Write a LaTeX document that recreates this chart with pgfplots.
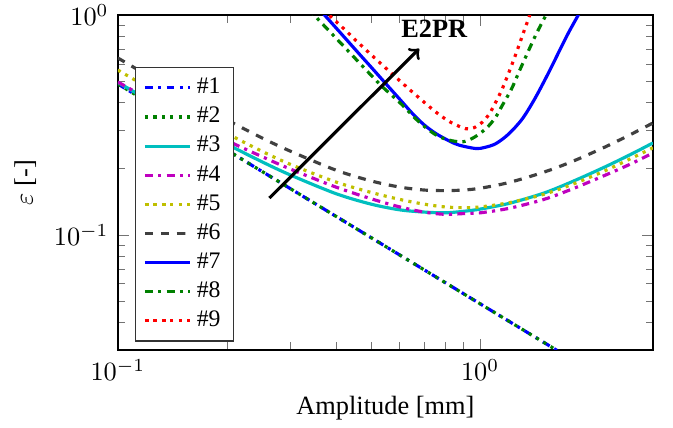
\documentclass[border=0pt]{standalone}
\usepackage{fontspec}
\setmainfont{Liberation Serif}
\usepackage{pgfplots}
\pgfplotsset{compat=1.18}

\definecolor{c3}{rgb}{0,0.75,0.75}
\definecolor{c4}{rgb}{0.75,0,0.75}
\definecolor{c5}{rgb}{0.75,0.75,0}
\definecolor{c6}{rgb}{0.25,0.25,0.25}
\definecolor{cg}{rgb}{0,0.5,0}

\begin{document}
\begin{tikzpicture}
\begin{axis}[
    name=ax,
    width=203pt, height=127pt, scale only axis,
    xmode=log, ymode=log,
    xmin=0.1, xmax=3, ymin=0.03, ymax=1,
    xlabel={Amplitude [mm]},
    ylabel={$\varepsilon$ [-]},
    xlabel style={at={(axis description cs:0.5,-0.173)}, anchor=center},
    ylabel style={at={(axis description cs:-0.173,0.5)}, anchor=center},
    axis line style={thick},
    tick style={black!55},
    legend cell align=left,
    legend style={at={(0.032,0.845)}, anchor=north west, draw=black!80, fill=white,
                  font=\small, row sep=-0.4pt},
    every axis plot/.append style={very thick},
]
% #1
\addplot[blue, dash dot] coordinates {(0.1,0.486) (0.2,0.243) (0.5,0.0972) (1.0,0.0486) (1.7,0.0286)};
% #2
\addplot[cg, dotted] coordinates {(0.1,0.486) (0.2,0.243) (0.5,0.0972) (1.0,0.0486) (1.7,0.0286)};
% #3
\addplot[c3, solid, smooth] coordinates {
(0.1,0.494) (0.12,0.415) (0.15,0.336) (0.2,0.259) (0.25,0.215) (0.3,0.187)
(0.4,0.154) (0.5,0.138) (0.6,0.130) (0.7,0.127) (0.8,0.126) (0.9,0.128)
(1.0,0.131) (1.2,0.139) (1.5,0.155) (1.8,0.175) (2.2,0.203) (2.6,0.232) (3.0,0.262)};
% #4
\addplot[c4, dash dot, smooth] coordinates {
(0.1,0.496) (0.12,0.419) (0.15,0.344) (0.2,0.269) (0.25,0.227) (0.3,0.199)
(0.4,0.165) (0.5,0.146) (0.6,0.134) (0.7,0.127) (0.8,0.124) (0.9,0.125)
(1.0,0.126) (1.2,0.132) (1.5,0.145) (1.8,0.162) (2.2,0.186) (2.6,0.210) (3.0,0.236)};
% #5
\addplot[c5, dotted, smooth] coordinates {
(0.1,0.562) (0.12,0.472) (0.15,0.382) (0.2,0.290) (0.25,0.240) (0.3,0.209)
(0.4,0.174) (0.5,0.156) (0.6,0.145) (0.7,0.138) (0.8,0.134) (0.9,0.133)
(1.0,0.134) (1.2,0.140) (1.5,0.153) (1.8,0.170) (2.2,0.195) (2.6,0.222) (3.0,0.249)};
% #6
\addplot[c6, dashed, smooth] coordinates {
(0.1,0.638) (0.12,0.535) (0.15,0.434) (0.2,0.334) (0.25,0.276) (0.3,0.240)
(0.4,0.197) (0.5,0.176) (0.6,0.165) (0.7,0.160) (0.8,0.159) (0.9,0.160)
(1.0,0.163) (1.2,0.173) (1.5,0.193) (1.8,0.216) (2.2,0.250) (2.6,0.286) (3.0,0.323)};
% #7
\addplot[blue, solid, smooth] coordinates {
(0.35,1.12) (0.372,1.0) (0.41,0.836) (0.464,0.665) (0.5,0.58) (0.55,0.486)
(0.6,0.414) (0.651,0.356) (0.70,0.317) (0.755,0.289) (0.82,0.268) (0.875,0.256)
(0.973,0.247) (1.03,0.250) (1.105,0.260) (1.2,0.288) (1.309,0.338) (1.42,0.42)
(1.549,0.551) (1.65,0.68) (1.758,0.837) (1.866,1.0) (1.95,1.15)};
% #8
\addplot[cg, dash dot, smooth] coordinates {
(0.335,1.07) (0.348,1.0) (0.418,0.728) (0.527,0.487) (0.6,0.40) (0.679,0.326)
(0.755,0.285) (0.82,0.270) (0.894,0.265) (0.96,0.277) (1.037,0.304) (1.1,0.340)
(1.152,0.389) (1.22,0.46) (1.28,0.551) (1.35,0.67) (1.423,0.809) (1.485,0.929)
(1.52,1.0) (1.56,1.1)};
% #9
\addplot[red, dotted, smooth] coordinates {
(0.37,1.06) (0.383,1.0) (0.42,0.868) (0.464,0.741) (0.53,0.605) (0.598,0.505)
(0.66,0.437) (0.755,0.362) (0.83,0.325) (0.913,0.304) (0.96,0.307) (1.015,0.326)
(1.06,0.355) (1.105,0.402) (1.15,0.46) (1.202,0.551) (1.24,0.63) (1.28,0.728)
(1.32,0.84) (1.35,0.93) (1.37,1.0) (1.40,1.11)};
\legend{\#1,\#2,\#3,\#4,\#5,\#6,\#7,\#8,\#9}
\draw[->, very thick, black] (axis cs:0.262,0.147) -- (axis cs:0.679,0.703);
\node[font=\bfseries] at (axis cs:0.747,0.864) {E2PR};
\end{axis}
% match the reference margins around the axis
\pgfresetboundingbox
\path (ax.south west) ++(-44.7pt,-29.5pt) coordinate (bl);
\path (ax.north east) ++(7.6pt,5.7pt) coordinate (tr);
\path[use as bounding box] (bl) rectangle (tr);
\end{tikzpicture}
\end{document}
